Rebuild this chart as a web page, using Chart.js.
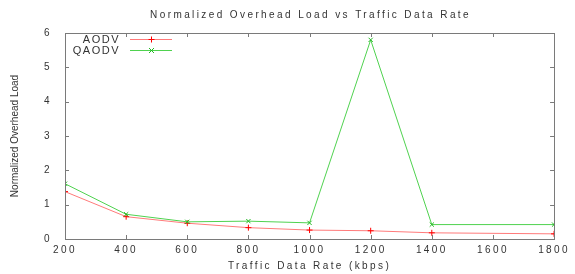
<!DOCTYPE html>
<html>
<head>
<meta charset="utf-8">
<script src="https://cdn.jsdelivr.net/npm/chart.js@4.4.1/dist/chart.umd.min.js"></script>
<style>
  html, body { margin: 0; padding: 0; background: #fff; }
  canvas { display: block; }
</style>
</head>
<body>
<canvas id="overhead" width="575" height="274"></canvas>
<script>
// data
var rates = [200, 400, 600, 800, 1000, 1200, 1400, 1800];
var aodv = [1.38, 0.65, 0.46, 0.33, 0.26, 0.24, 0.18, 0.15];
var qaodv = [1.61, 0.72, 0.50, 0.52, 0.47, 5.80, 0.42, 0.42];
var seriesNames = ['AODV', 'QAODV'];

var chartTitle = 'Normalized Overhead Load vs Traffic Data Rate';
var xTitle = 'Traffic Data Rate (kbps)';
var yTitle = 'Normalized Overhead Load';

var textFont = '"Liberation Sans", Arial, Helvetica, sans-serif';
var spacing = '2.4px';
var frameColor = '#7a7a7a';
var textColor = '#333';

function points(vals) {
    return rates.map(function (r, i) { return { x: r, y: vals[i] }; });
}

// gnuplot look: boxed frame, inward ticks, title, y title and legend drawn here
var gnuplotBits = {
    id: 'gnuplotBits',
    beforeLayout: function (chart) { chart.ctx.letterSpacing = spacing; },
    beforeDraw: function (chart) { chart.ctx.letterSpacing = spacing; },
    afterDraw: function (chart) {
        var ctx = chart.ctx;
        var a = chart.chartArea;
        var xs = chart.scales.x, ys = chart.scales.y;
        ctx.save();
        ctx.strokeStyle = frameColor;
        ctx.lineWidth = 1;
        ctx.strokeRect(Math.round(a.left) + 0.5, Math.round(a.top) + 0.5,
            Math.round(a.right - a.left), Math.round(a.bottom - a.top));
        ctx.beginPath();
        xs.ticks.forEach(function (t) {
            var px = Math.round(xs.getPixelForValue(t.value)) + 0.5;
            ctx.moveTo(px, a.bottom); ctx.lineTo(px, a.bottom - 4);
            ctx.moveTo(px, a.top); ctx.lineTo(px, a.top + 4);
        });
        ys.ticks.forEach(function (t) {
            var py = Math.round(ys.getPixelForValue(t.value)) + 0.5;
            ctx.moveTo(a.left, py); ctx.lineTo(a.left + 4, py);
            ctx.moveTo(a.right, py); ctx.lineTo(a.right - 4, py);
        });
        ctx.stroke();

        // title
        ctx.fillStyle = textColor;
        ctx.letterSpacing = spacing;
        ctx.font = '10px ' + textFont;
        ctx.textAlign = 'center';
        ctx.textBaseline = 'middle';
        ctx.fillText(chartTitle, (a.left + a.right) / 2 + 1, 15);

        // y title
        ctx.save();
        ctx.letterSpacing = '0px';
        ctx.font = '10px "Liberation Sans Narrow", "Arial Narrow", sans-serif';
        ctx.translate(15, (a.top + a.bottom) / 2);
        ctx.rotate(-Math.PI / 2);
        ctx.fillText(yTitle, 0, 0);
        ctx.restore();

        // legend
        ctx.font = '11px ' + textFont;
        ctx.letterSpacing = '1.5px';
        ctx.textAlign = 'right';
        chart.data.datasets.forEach(function (ds, i) {
            var ly = 39.5 + i * 11;
            ctx.fillStyle = textColor;
            ctx.fillText(ds.label, 120, ly);
            ctx.strokeStyle = ds.borderColor;
            ctx.beginPath();
            ctx.moveTo(130, ly); ctx.lineTo(172, ly);
            ctx.stroke();
            ctx.strokeStyle = ds.pointBorderColor;
            ctx.beginPath();
            if (ds.pointStyle === 'cross') {
                ctx.moveTo(151.5, ly - 3); ctx.lineTo(151.5, ly + 3);
                ctx.moveTo(148.5, ly); ctx.lineTo(154.5, ly);
            } else {
                ctx.moveTo(149, ly - 2.5); ctx.lineTo(154, ly + 2.5);
                ctx.moveTo(149, ly + 2.5); ctx.lineTo(154, ly - 2.5);
            }
            ctx.stroke();
        });
        ctx.restore();
    }
};

var overhead = new Chart(document.getElementById('overhead'), {
    type: 'line',
    data: {
        datasets: [{
            label: seriesNames[0],
            data: points(aodv),
            borderColor: '#ff7a7a',
            pointBorderColor: '#ff0000',
            pointBackgroundColor: '#ff0000',
            pointStyle: 'cross',
            pointRadius: 3,
            borderWidth: 1,
            fill: false,
            order: 1
        }, {
            label: seriesNames[1],
            data: points(qaodv),
            borderColor: '#4fd24f',
            pointBorderColor: '#22b822',
            pointBackgroundColor: '#22b822',
            pointStyle: 'crossRot',
            pointRadius: 3,
            borderWidth: 1,
            fill: false,
            order: 0
        }]
    },
    options: {
        responsive: false,
        animation: false,
        layout: { padding: { top: 33, right: 14, left: 0, bottom: 0 } },
        plugins: {
            legend: { display: false },
            tooltip: { enabled: false },
            title: { display: false }
        },
        scales: {
            x: {
                type: 'linear',
                min: 200,
                max: 1800,
                ticks: { stepSize: 200, color: textColor, padding: 5, maxRotation: 0,
                    font: { size: 10, family: textFont },
                    callback: function (v) { return String(v); } },
                grid: { display: false, drawTicks: false },
                border: { display: false },
                title: { display: true, text: xTitle, color: textColor,
                    font: { size: 10, family: textFont }, padding: { top: 0, bottom: 2 } },
                afterFit: function (s) { s.height = 35; }
            },
            y: {
                min: 0,
                max: 6,
                ticks: { stepSize: 1, color: textColor, padding: 13,
                    font: { size: 10, family: textFont } },
                grid: { display: false, drawTicks: false },
                border: { display: false },
                afterFit: function (s) { s.width = 65; }
            }
        }
    },
    plugins: [gnuplotBits]
});
</script>
</body>
</html>
